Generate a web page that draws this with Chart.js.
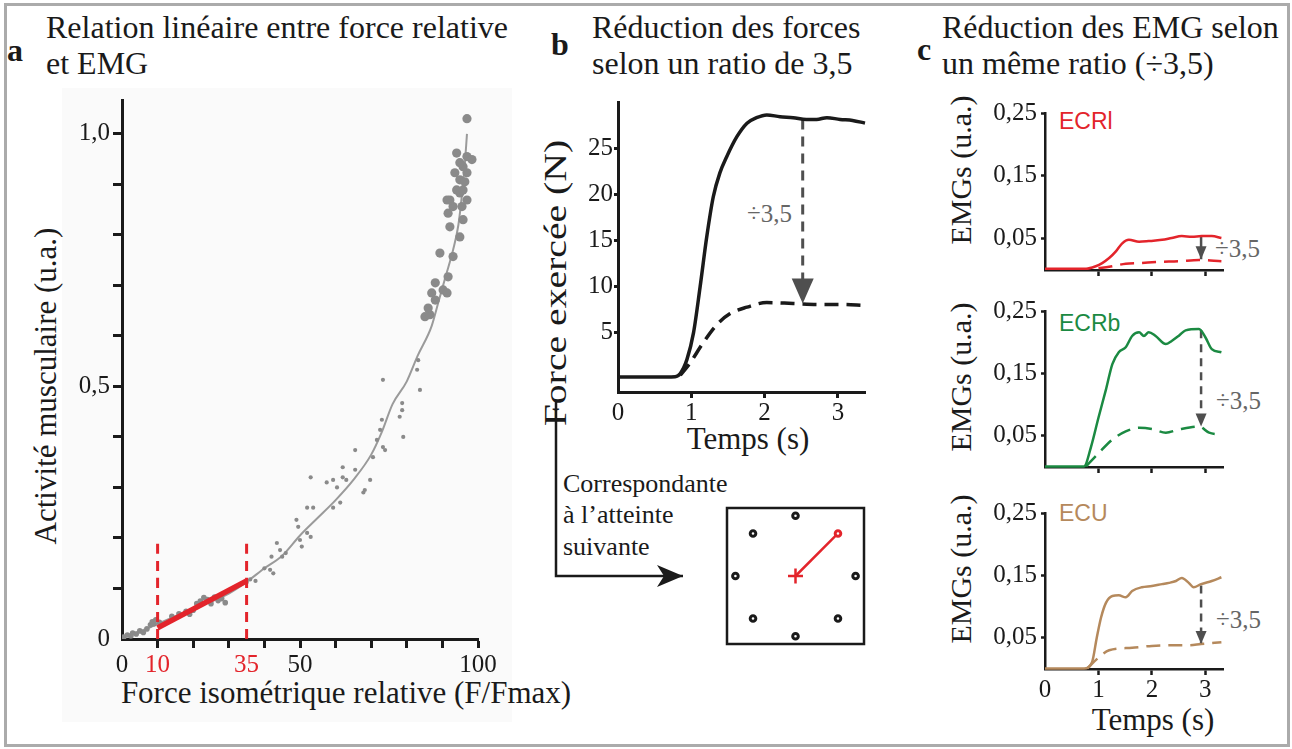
<!DOCTYPE html>
<html lang="fr">
<head>
<meta charset="utf-8">
<title>Force relative et EMG</title>
<script src="https://cdn.jsdelivr.net/npm/chart.js@4.4.0/dist/chart.umd.min.js"></script>
<style>
  html, body { margin: 0; padding: 0; background: #fff; }
  body { width: 1292px; height: 749px; position: relative; overflow: hidden;
         font-family: 'Liberation Serif', 'Times New Roman', serif; color: #1a1a1a; }
  .abs { position: absolute; white-space: nowrap; }
  .frame { position: absolute; left: 4px; top: 3px; width: 1286px; height: 744px;
           border: 3px solid #ababab; box-sizing: border-box; }
  .bg-a { position: absolute; left: 62px; top: 88px; width: 450px; height: 634px; background: #fafafa; }
  .ttl { font-size: 32px; line-height: 36px; }
  .lbl { font-weight: bold; font-size: 32px; transform: translate(-50%, -50%); }
  .ctr { transform: translate(-50%, -50%); }
  .rot { transform: translate(-50%, -50%) rotate(-90deg); }
  .axt { font-size: 31px; line-height: 1; }
  .div35 { font-size: 25px; line-height: 1; color: #666; transform: translateY(-50%); }
  .mus { font-family: 'Liberation Sans', Arial, sans-serif; font-size: 23px; line-height: 1; transform: translateY(-50%); }
  .chart { position: absolute; }
</style>
</head>
<body>
<div class="bg-a"></div>
<div class="frame"></div>

<!-- titres -->
<div class="abs lbl" style="left:15px;top:50px">a</div>
<div class="abs ttl" style="left:46px;top:9px">Relation linéaire entre force relative<br>et EMG</div>
<div class="abs lbl" style="left:560px;top:44px">b</div>
<div class="abs ttl" style="left:592px;top:9px">Réduction des forces<br>selon un ratio de 3,5</div>
<div class="abs lbl" style="left:924px;top:49px">c</div>
<div class="abs ttl" style="left:942px;top:9px">Réduction des EMG selon<br>un même ratio (÷3,5)</div>

<!-- titres d'axes -->
<div class="abs axt rot" style="left:45px;top:386px">Activité musculaire (u.a.)</div>
<div class="abs axt ctr" style="left:346px;top:692px">Force isométrique relative (F/Fmax)</div>
<div class="abs axt" style="left:555px;top:283px;transform:translate(-50%,-50%) rotate(-90deg) scale(1.28,1)">Force exercée (N)</div>
<div class="abs axt ctr" style="left:748px;top:438px">Temps (s)</div>
<div class="abs axt rot" style="left:961px;top:170px;font-size:30px">EMGs (u.a.)</div>
<div class="abs axt rot" style="left:961px;top:377px;font-size:30px">EMGs (u.a.)</div>
<div class="abs axt rot" style="left:961px;top:569px;font-size:30px">EMGs (u.a.)</div>
<div class="abs axt ctr" style="left:1153px;top:719px">Temps (s)</div>

<!-- annotations -->
<div class="abs div35" style="left:747px;top:213px">÷3,5</div>
<div class="abs div35" style="left:1215px;top:248px">÷3,5</div>
<div class="abs div35" style="left:1216px;top:400px">÷3,5</div>
<div class="abs div35" style="left:1216px;top:619px">÷3,5</div>
<div class="abs mus" style="left:1059px;top:121px;color:#e3242b">ECRl</div>
<div class="abs mus" style="left:1059px;top:323px;color:#1b8a42">ECRb</div>
<div class="abs mus" style="left:1059px;top:513px;color:#b5895c">ECU</div>
<div class="abs" style="left:563px;top:467.5px;font-size:26px;line-height:31.5px">Correspondante<br>à l’atteinte<br>suivante</div>

<script>
  const INK = '#1a1a1a';
  const RED = '#e3242b';
  const GREEN = '#1b8a42';
  const TAN = '#b5895c';
  const ARROW_GRAY = '#4f4f4f';
  const DOT_GRAY = '#8a8a8a';
  const SERIF = "'Liberation Serif', 'Times New Roman', serif";

  Chart.defaults.font.family = SERIF;
  Chart.defaults.color = INK;

  // --- a : EMG vs force relative ---
  const aFit = [[0, 0.005], [5, 0.015], [10, 0.03], [20, 0.06], [30, 0.09], [35, 0.113], [40, 0.14], [45, 0.165],
    [50, 0.205], [55, 0.24], [60, 0.275], [65, 0.315], [70, 0.365], [73, 0.41], [76, 0.465], [80, 0.51], [83, 0.56],
    [87, 0.62], [89, 0.67], [91, 0.72], [93, 0.77], [94.5, 0.82], [95.5, 0.88], [96.3, 0.94], [96.9, 1.0]];
  const aSamples = [
    [0.5, 0.004], [1.5, 0.008], [2.5, 0.006], [3, 0.012], [4, 0.01], [5, 0.016], [6, 0.013], [7, 0.02], [8, 0.028],
    [8.5, 0.034], [9, 0.03], [9.5, 0.038], [10.5, 0.033], [11, 0.029],
    [14, 0.045], [16, 0.05], [18, 0.055], [19, 0.049], [20, 0.057], [21, 0.07], [22, 0.075], [23, 0.082], [24, 0.078],
    [25, 0.07], [26, 0.083], [27, 0.076], [28, 0.08], [29, 0.072],
    [35, 0.112], [36, 0.118], [37.5, 0.115],
    [40, 0.14], [41.6, 0.137], [42, 0.163], [42.5, 0.13], [43.5, 0.19], [44.4, 0.176], [45, 0.163], [46, 0.17],
    [49, 0.236], [49.5, 0.222], [50, 0.196], [50.5, 0.183], [52, 0.21], [53, 0.202], [53, 0.32], [52, 0.26], [53.7, 0.26],
    [57.5, 0.31], [59.3, 0.315], [60.4, 0.3], [61.3, 0.27], [62, 0.32], [62, 0.34], [63, 0.315], [59.3, 0.26],
    [65.5, 0.374], [65.5, 0.335], [67.8, 0.29], [68.2, 0.295], [69.7, 0.315],
    [70.5, 0.36], [71.6, 0.394], [72.5, 0.414], [73, 0.434], [73.3, 0.38], [73.9, 0.374],
    [78, 0.44], [78.7, 0.453], [79, 0.4], [73.3, 0.513], [78.7, 0.467],
    [82.9, 0.533], [83.7, 0.493], [83.2, 0.552],
    [85.1, 0.638], [86.5, 0.642], [86, 0.655], [87, 0.685], [88, 0.671], [90.2, 0.691], [91.3, 0.685], [88, 0.705],
    [89.3, 0.764], [93, 0.757], [91.6, 0.717],
    [92.1, 0.816], [94.9, 0.796], [95.8, 0.83], [93, 0.856], [95.5, 0.856], [92.1, 0.869], [94.9, 0.883], [94, 0.889],
    [95.8, 0.889], [94.9, 0.909], [93.5, 0.923], [96.9, 0.923], [95.8, 0.935], [94.9, 0.943], [94, 0.962], [96.9, 0.955],
    [98.3, 0.949], [91.3, 0.869], [91.6, 0.843], [96.9, 0.869], [96.3, 0.905], [96.9, 1.03]];
  const aSegment = [[10, 0.022], [35, 0.115]];
  const aGuides = [10, 35];
  const aGuideTop = 0.192;
  const aXTicks = [0, 10, 20, 30, 35, 40, 50, 60, 70, 80, 90, 100];
  const aXLabelled = [0, 10, 35, 50, 100];
  const aXRed = [10, 35];
  const aYTicks = [0, 0.1, 0.2, 0.3, 0.4, 0.5, 0.6, 0.7, 0.8, 0.9, 1.0];
  const aYLabels = { 0: '0', 0.5: '0,5', 1: '1,0' };

  // --- b : force ---
  const bTime = [0, 0.5, 0.78, 0.85, 0.94, 1.03, 1.12, 1.21, 1.3, 1.39, 1.48, 1.62, 1.76, 1.89, 2.03, 2.21, 2.39, 2.57, 2.71, 2.85, 3.03, 3.2, 3.37];
  const bForce = [0.1, 0.1, 0.15, 0.5, 2.0, 4.9, 9.9, 15.3, 19.7, 22.3, 24.0, 26.2, 27.7, 28.3, 28.6, 28.4, 28.3, 28.1, 28.1, 28.3, 28.1, 28.0, 27.7];
  const bTimeReduced = [0.85, 0.98, 1.16, 1.35, 1.53, 1.76, 2.03, 2.39, 2.75, 3.03, 3.37];
  const bForceReduced = [0.3, 1.6, 3.8, 5.8, 7.0, 7.7, 8.2, 8.1, 8.0, 8.0, 7.9];
  const bArrow = { t: 2.52, from: 28.1, to: 8.1 };
  const bXTicks = [0, 1, 2, 3];
  const bYTicks = [5, 10, 15, 20, 25];

  // --- c : EMG par muscle ---
  const ecrlT = [0, 0.5, 0.77, 0.95, 1.07, 1.2, 1.33, 1.44, 1.57, 1.76, 1.94, 2.19, 2.37, 2.56, 2.75, 2.93, 3.12, 3.3];
  const ecrlFull = [0.002, 0.002, 0.002, 0.006, 0.011, 0.019, 0.03, 0.042, 0.048, 0.045, 0.046, 0.048, 0.051, 0.054, 0.053, 0.054, 0.054, 0.051];
  const ecrlRedT = [1.0, 1.2, 1.51, 1.76, 2.13, 2.5, 2.88, 3.3];
  const ecrlRed = [0.003, 0.005, 0.01, 0.011, 0.013, 0.014, 0.016, 0.014];
  const ecrbT = [0, 0.5, 0.73, 0.86, 1.0, 1.14, 1.26, 1.38, 1.51, 1.63, 1.76, 1.85, 1.94, 2.07, 2.26, 2.37, 2.5, 2.63, 2.88, 3.0, 3.12, 3.3];
  const ecrbFull = [0.001, 0.001, 0.001, 0.032, 0.079, 0.124, 0.165, 0.184, 0.192, 0.21, 0.216, 0.21, 0.216, 0.21, 0.197, 0.202, 0.21, 0.219, 0.221, 0.208, 0.189, 0.184];
  const ecrbRedT = [0.77, 1.0, 1.26, 1.51, 1.76, 2.0, 2.26, 2.5, 2.88, 3.07, 3.3];
  const ecrbRed = [0.001, 0.022, 0.044, 0.057, 0.063, 0.061, 0.055, 0.06, 0.065, 0.055, 0.052];
  const ecuT = [0, 0.5, 0.73, 0.88, 0.97, 1.05, 1.14, 1.26, 1.38, 1.51, 1.63, 1.81, 2.0, 2.19, 2.32, 2.45, 2.56, 2.69, 2.78, 2.92, 3.12, 3.3];
  const ecuFull = [0.001, 0.001, 0.001, 0.011, 0.051, 0.083, 0.106, 0.117, 0.118, 0.115, 0.125, 0.131, 0.133, 0.136, 0.138, 0.141, 0.146, 0.138, 0.131, 0.136, 0.141, 0.147];
  const ecuRedT = [0.79, 1.0, 1.2, 1.63, 2.0, 2.37, 2.69, 2.92, 3.3];
  const ecuRed = [0.001, 0.018, 0.03, 0.034, 0.037, 0.038, 0.038, 0.04, 0.043];
  const cArrowT = 2.92;
  const cArrowFrom = [0.053, 0.219, 0.134];
  const cArrowTo = [0.017, 0.065, 0.04];
  const cXTicks = [0, 1, 2, 3];
  const cYTicks = [0.05, 0.15, 0.25];

  // --- cible ---
  const targets = [[0, 1], [0.707, 0.707], [1, 0], [0.707, -0.707], [0, -1], [-0.707, -0.707], [-1, 0], [-0.707, 0.707]];
  const activeTarget = 1;

  const zip = (xs, ys) => xs.map((x, i) => ({ x, y: ys[i] }));
  const pairs = (list) => list.map(([x, y]) => ({ x, y }));

  // pointe de flèche au bout d'un dataset (ds.arrow)
  const arrowHeads = {
    id: 'arrowHeads',
    afterDatasetsDraw(chart) {
      const ctx = chart.ctx;
      chart.data.datasets.forEach((ds, i) => {
        if (!ds.arrow) return;
        const pts = chart.getDatasetMeta(i).data;
        const a = pts[pts.length - 2], b = pts[pts.length - 1];
        const ang = Math.atan2(b.y - a.y, b.x - a.x);
        const { len, half, notch = 0 } = ds.arrow;
        ctx.save();
        ctx.translate(b.x, b.y);
        ctx.rotate(ang);
        ctx.beginPath();
        ctx.moveTo(0, 0);
        ctx.lineTo(-len, -half);
        ctx.lineTo(-len + notch, 0);
        ctx.lineTo(-len, half);
        ctx.closePath();
        ctx.fillStyle = ds.borderColor;
        ctx.fill();
        ctx.restore();
      });
    },
  };

  const boxFrame = {
    id: 'boxFrame',
    afterDraw(chart) {
      const { left, top, right, bottom } = chart.chartArea;
      const ctx = chart.ctx;
      ctx.save();
      ctx.strokeStyle = INK;
      ctx.lineWidth = 2.5;
      ctx.strokeRect(left, top, right - left, bottom - top);
      ctx.restore();
    },
  };

  function mount(area, pad) {
    const c = document.createElement('canvas');
    const w = area.r - area.l + pad.left + pad.right;
    const h = area.b - area.t + pad.top + pad.bottom;
    c.width = w;
    c.height = h;
    c.className = 'chart';
    c.style.left = (area.l - pad.left) + 'px';
    c.style.top = (area.t - pad.top) + 'px';
    c.style.width = w + 'px';
    c.style.height = h + 'px';
    document.body.appendChild(c);
    return c;
  }

  function axis(pos, o) {
    const horiz = pos === 'bottom';
    const hidden = o.noMark || [];
    return {
      type: 'linear', position: pos, min: o.min, max: o.max,
      border: { display: true, color: INK, width: o.width },
      grid: {
        drawOnChartArea: false, drawTicks: true, tickLength: o.tick, tickWidth: o.width,
        tickColor: (c) => (c.tick && hidden.includes(c.tick.value) ? 'rgba(0,0,0,0)' : INK),
      },
      ticks: {
        autoSkip: false, maxRotation: 0, minRotation: 0, padding: o.pad,
        font: { family: SERIF, size: 25 },
        color: o.color || INK,
        callback: o.label,
      },
      afterBuildTicks: (s) => { s.ticks = o.values.map((v) => ({ value: v })); },
      afterFit: (s) => {
        if (horiz) s.height = o.size; else s.width = o.size;
        s.paddingLeft = s.paddingRight = s.paddingTop = s.paddingBottom = 0;
      },
    };
  }

  function options(x, y, pad, extra = {}) {
    return {
      responsive: false, animation: false, events: [],
      layout: { padding: { left: 0, top: pad.top, right: pad.right, bottom: 0 } },
      plugins: { legend: { display: false }, tooltip: { enabled: false } },
      scales: { x, y },
      elements: { point: { radius: 0 } },
      ...extra,
    };
  }

  function lineSet(data, color, width, dash, more = {}) {
    return { data, showLine: true, borderColor: color, borderWidth: width, borderDash: dash || [],
      pointRadius: 0, cubicInterpolationMode: 'monotone', ...more };
  }

  // --- panel a ---
  (function () {
    const pad = { left: 70, top: 15, right: 30, bottom: 45 };
    const canvas = mount({ l: 122, t: 100, r: 478, b: 639 }, pad);
    const x = axis('bottom', {
      min: 0, max: 100, width: 3, tick: 9, pad: 2, size: pad.bottom, values: aXTicks, noMark: [0, 35],
      color: (c) => (aXRed.includes(c.tick.value) ? RED : INK),
      label: (v) => (aXLabelled.includes(v) ? String(v) : ''),
    });
    const y = axis('left', {
      min: 0, max: 1.067, width: 3, tick: 9, pad: 3, size: pad.left, values: aYTicks, noMark: [0],
      label: (v) => aYLabels[v] || '',
    });
    const guides = aGuides.map((g) => lineSet([{ x: g, y: 0 }, { x: g, y: aGuideTop }], RED, 3, [10, 7], { order: 1 }));
    new Chart(canvas, {
      type: 'scatter',
      data: {
        datasets: [
          lineSet(pairs(aSegment), RED, 5.5, null, { order: 0, borderCapStyle: 'butt' }),
          ...guides,
          { data: pairs(aSamples), backgroundColor: DOT_GRAY, borderWidth: 0, order: 3,
            pointRadius: (c) => (c.raw && c.raw.y > 0.6 ? 4.6 : c.raw && c.raw.y < 0.1 ? 2.8 : 2.1) },
          lineSet(pairs(aFit), '#9a9a9a', 2, null, { order: 4 }),
        ],
      },
      options: options(x, y, pad),
    });
  })();

  // --- panel b ---
  (function () {
    const pad = { left: 60, top: 10, right: 20, bottom: 30 };
    const canvas = mount({ l: 618, t: 102, r: 865, b: 392 }, pad);
    const x = axis('bottom', {
      min: 0, max: 3.37, width: 3, tick: 6, pad: 0, size: pad.bottom, values: bXTicks, noMark: [0],
      label: (v) => String(v),
    });
    const y = axis('left', {
      min: -1.52, max: 30, width: 3, tick: 4, pad: 1, size: pad.left, values: bYTicks,
      label: (v) => String(v),
    });
    new Chart(canvas, {
      type: 'scatter',
      data: {
        datasets: [
          lineSet(zip(bTime, bForce), INK, 3.5),
          lineSet(zip(bTimeReduced, bForceReduced), INK, 3.5, [14, 8]),
          lineSet([{ x: bArrow.t, y: bArrow.from }, { x: bArrow.t, y: bArrow.to }], ARROW_GRAY, 3, [10, 7],
            { arrow: { len: 25, half: 11 }, cubicInterpolationMode: 'default', tension: 0 }),
        ],
      },
      options: options(x, y, pad, { clip: false }),
      plugins: [arrowHeads],
    });
  })();

  // --- panel c ---
  const cTops = [113, 311, 513];
  const cBottoms = [270, 467, 669];
  const cSeries = [
    { t: ecrlT, v: ecrlFull, rt: ecrlRedT, rv: ecrlRed, color: RED, solidArrow: true },
    { t: ecrbT, v: ecrbFull, rt: ecrbRedT, rv: ecrbRed, color: GREEN },
    { t: ecuT, v: ecuFull, rt: ecuRedT, rv: ecuRed, color: TAN },
  ];
  cSeries.forEach((s, i) => {
    const last = i === cSeries.length - 1;
    const pad = { left: 90, top: 12, right: 14, bottom: last ? 35 : 14 };
    const canvas = mount({ l: 1045, t: cTops[i], r: 1223, b: cBottoms[i] }, pad);
    const x = axis('bottom', {
      min: 0, max: 3.33, width: 2.5, tick: 6, pad: 0, size: pad.bottom, values: cXTicks, noMark: [0],
      label: (v) => (last ? String(v) : ''),
    });
    const y = axis('left', {
      min: 0, max: 0.25, width: 2.5, tick: 4, pad: 4, size: pad.left, values: cYTicks,
      label: (v) => v.toFixed(2).replace('.', ','),
    });
    new Chart(canvas, {
      type: 'scatter',
      data: {
        datasets: [
          lineSet(zip(s.t, s.v), s.color, 2.5),
          lineSet(zip(s.rt, s.rv), s.color, 2.5, [14, 8]),
          lineSet([{ x: cArrowT, y: cArrowFrom[i] }, { x: cArrowT, y: cArrowTo[i] }], ARROW_GRAY, 2.5,
            s.solidArrow ? [] : [8, 6], { arrow: { len: 13, half: 5.5 }, cubicInterpolationMode: 'default', tension: 0 }),
        ],
      },
      options: options(x, y, pad, { clip: false }),
      plugins: [arrowHeads],
    });
  });

  // --- schéma des cibles ---
  (function () {
    const pad = { left: 15, top: 15, right: 15, bottom: 15 };
    const canvas = mount({ l: 727, t: 508, r: 864, b: 644 }, pad);
    new Chart(canvas, {
      type: 'scatter',
      data: {
        datasets: [
          { data: pairs(targets), pointRadius: 2.8, borderWidth: 3, backgroundColor: '#fff',
            borderColor: targets.map((_, i) => (i === activeTarget ? RED : INK)) },
          { data: [{ x: 0, y: 0 }], pointStyle: 'cross', pointRadius: 7.5, borderWidth: 2.5, borderColor: RED },
          lineSet(pairs([[0, 0], targets[activeTarget]]), RED, 2.5, null, { cubicInterpolationMode: 'default' }),
        ],
      },
      options: {
        responsive: false, animation: false, events: [], clip: false,
        layout: { padding: pad },
        plugins: { legend: { display: false }, tooltip: { enabled: false } },
        scales: {
          x: { type: 'linear', display: false, min: -1.14, max: 1.14 },
          y: { type: 'linear', display: false, min: -1.13, max: 1.13 },
        },
      },
      plugins: [boxFrame],
    });
  })();

  // --- flèche de liaison b -> cible ---
  (function () {
    const pad = { left: 15, top: 15, right: 15, bottom: 15 };
    const canvas = mount({ l: 556, t: 402, r: 683, b: 576 }, pad);
    new Chart(canvas, {
      type: 'scatter',
      data: {
        datasets: [
          lineSet([{ x: 0, y: 1 }, { x: 0, y: 0 }, { x: 0.95, y: 0 }, { x: 1, y: 0 }], INK, 2.5, null,
            { arrow: { len: 26, half: 11, notch: 7 }, cubicInterpolationMode: 'default', tension: 0, borderJoinStyle: 'miter' }),
        ],
      },
      options: {
        responsive: false, animation: false, events: [], clip: false,
        layout: { padding: pad },
        plugins: { legend: { display: false }, tooltip: { enabled: false } },
        scales: {
          x: { type: 'linear', display: false, min: 0, max: 1 },
          y: { type: 'linear', display: false, min: 0, max: 1 },
        },
      },
      plugins: [arrowHeads],
    });
  })();
</script>
</body>
</html>
